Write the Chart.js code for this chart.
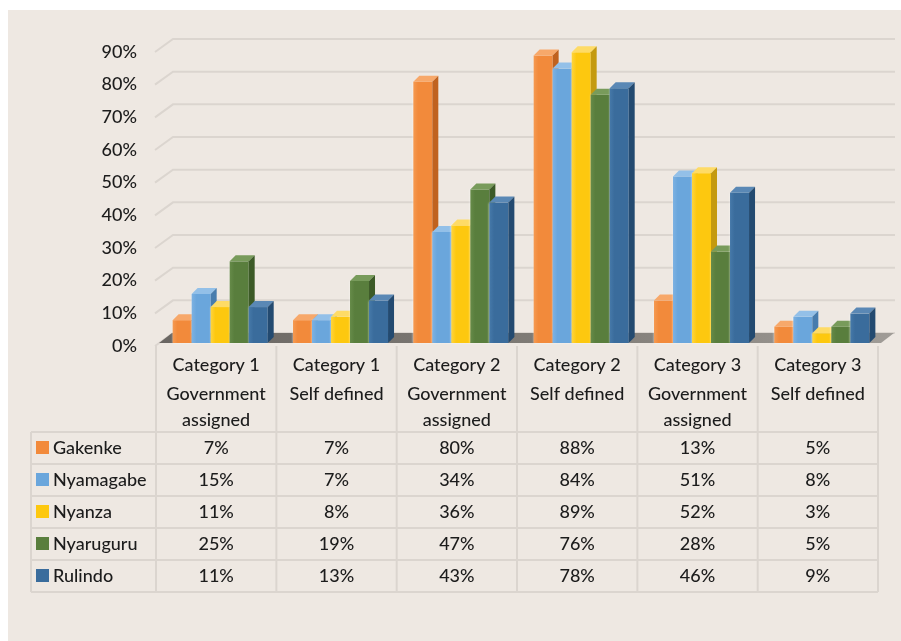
<!DOCTYPE html>
<html>
<head>
<meta charset="utf-8">
<script src="https://cdn.jsdelivr.net/npm/chart.js@4/dist/chart.umd.min.js"></script>
<style>
  html, body { margin: 0; padding: 0; background: #fff; }
  .chart-wrap { position: absolute; left: 8px; top: 10px; width: 893px; height: 631px; background: #eee8e2; }
  canvas { display: block; }
</style>
</head>
<body>
<div class="chart-wrap"><canvas id="chart" width="893" height="631"></canvas></div>
<script>
const CATEGORIES = [
  ['Category 1', 'Government', 'assigned'],
  ['Category 1', 'Self defined'],
  ['Category 2', 'Government', 'assigned'],
  ['Category 2', 'Self defined'],
  ['Category 3', 'Government', 'assigned'],
  ['Category 3', 'Self defined'],
];
const DISTRICTS = ['Gakenke', 'Nyamagabe', 'Nyanza', 'Nyaruguru', 'Rulindo'];
const GAKENKE = [7, 7, 80, 88, 13, 5];
const NYAMAGABE = [15, 7, 34, 84, 51, 8];
const NYANZA = [11, 8, 36, 89, 52, 3];
const NYARUGURU = [25, 19, 47, 76, 28, 5];
const RULINDO = [11, 13, 43, 78, 46, 9];
const Y_MAX = 90;
const Y_STEP = 10;

const SERIES = [GAKENKE, NYAMAGABE, NYANZA, NYARUGURU, RULINDO];

// front / top / side shades for each district
const FACES = [
  { front: '#f28a3b', light: '#f59a52', top: '#f7a86a', side: '#c0621f' },
  { front: '#6aa6dc', light: '#7db2e2', top: '#93c0e8', side: '#477cad' },
  { front: '#fdc80f', light: '#fed43f', top: '#fedb66', side: '#c49a10' },
  { front: '#597e3d', light: '#668b49', top: '#789b5b', side: '#3c5a27' },
  { front: '#3a6c9c', light: '#4679a9', top: '#5a88b5', side: '#234a70' },
];

const TEXT_COLOR = '#1c1c1c';
const GRID_COLOR = '#dbd5cf';
const FONT_FAMILY = 'Lato, "Open Sans", sans-serif';
const FONT = '500 18px ' + FONT_FAMILY;

const DEPTH = 6;              // bar depth in px
const WALL_DX = 17;           // back wall offset
const WALL_DY = 13;
const BAR_DX = 4;             // bars sit slightly in front of the axis plane
const BAR_DY = -3;

const HEADER_LINES = [19, 48, 74];  // text rows under the floor
const TABLE_TOP = 422;
const ROW_H = 32;
const TABLE_LEFT = 23;

function drawBar(ctx, bar, face) {
  const { x, y, base, width } = bar.getProps(['x', 'y', 'base', 'width'], true);
  const x0 = x - width / 2 + BAR_DX;
  const x1 = x0 + width;
  const top = y + BAR_DY;
  const bottom = base + BAR_DY;

  ctx.save();
  ctx.shadowColor = 'rgba(255,255,255,0.7)';
  ctx.shadowBlur = 2;

  const g = ctx.createLinearGradient(x0, 0, x1, 0);
  g.addColorStop(0, face.light);
  g.addColorStop(0.25, face.front);
  g.addColorStop(1, face.front);
  ctx.fillStyle = g;
  ctx.fillRect(x0, top, width, bottom - top);
  ctx.shadowColor = 'transparent';

  ctx.fillStyle = face.top;
  ctx.beginPath();
  ctx.moveTo(x0, top);
  ctx.lineTo(x0 + DEPTH, top - DEPTH);
  ctx.lineTo(x1 + DEPTH, top - DEPTH);
  ctx.lineTo(x1, top);
  ctx.closePath();
  ctx.fill();

  ctx.fillStyle = face.side;
  ctx.beginPath();
  ctx.moveTo(x1, top);
  ctx.lineTo(x1 + DEPTH, top - DEPTH);
  ctx.lineTo(x1 + DEPTH, bottom - DEPTH);
  ctx.lineTo(x1, bottom);
  ctx.closePath();
  ctx.fill();
  ctx.restore();
}

const scene3d = {
  id: 'scene3d',
  beforeDatasetsDraw(chart) {
    const { ctx, chartArea: area, scales: { y } } = chart;
    const y0 = y.getPixelForValue(0);
    ctx.save();

    // back wall gridlines
    ctx.strokeStyle = GRID_COLOR;
    ctx.lineWidth = 2;
    y.ticks.forEach((t) => {
      const py = y.getPixelForValue(t.value);
      ctx.beginPath();
      ctx.moveTo(area.left - 1, py);
      ctx.lineTo(area.left + WALL_DX, py - WALL_DY);
      ctx.lineTo(area.right + WALL_DX, py - WALL_DY);
      ctx.stroke();
    });

    // floor
    const fg = ctx.createLinearGradient(area.left, 0, area.right + 16, 0);
    fg.addColorStop(0, '#6a6662');
    fg.addColorStop(0.6, '#827e79');
    fg.addColorStop(1, '#a09c97');
    ctx.fillStyle = fg;
    ctx.beginPath();
    ctx.moveTo(area.left + 3, y0 - 3);
    ctx.lineTo(area.right + 3, y0 - 3);
    ctx.lineTo(area.right + 16, y0 - 13);
    ctx.lineTo(area.left + 16, y0 - 13);
    ctx.closePath();
    ctx.fill();

    // bars, left to right so each front hides its neighbour's side
    const metas = chart.getSortedVisibleDatasetMetas();
    CATEGORIES.forEach((_, c) => {
      metas.forEach((meta) => drawBar(ctx, meta.data[c], FACES[meta.index]));
    });

    ctx.restore();
    return false;
  },
  afterDraw(chart) {
    const { ctx, scales: { x, y } } = chart;
    const y0 = y.getPixelForValue(0);
    const colW = x.getPixelForValue(1) - x.getPixelForValue(0);
    const edges = CATEGORIES.map((_, i) => x.getPixelForValue(i) - colW / 2);
    edges.push(x.right);
    const tableBottom = TABLE_TOP + ROW_H * DISTRICTS.length;

    ctx.save();
    ctx.strokeStyle = GRID_COLOR;
    ctx.lineWidth = 2;
    ctx.beginPath();
    edges.forEach((ex) => {
      ctx.moveTo(ex, y0);
      ctx.lineTo(ex, tableBottom);
    });
    ctx.moveTo(TABLE_LEFT, TABLE_TOP);
    ctx.lineTo(TABLE_LEFT, tableBottom);
    for (let r = 0; r <= DISTRICTS.length; r += 1) {
      ctx.moveTo(TABLE_LEFT, TABLE_TOP + r * ROW_H);
      ctx.lineTo(x.right, TABLE_TOP + r * ROW_H);
    }
    ctx.stroke();

    ctx.fillStyle = TEXT_COLOR;
    ctx.font = FONT;
    ctx.textBaseline = 'middle';
    ctx.textAlign = 'center';
    CATEGORIES.forEach((lines, i) => {
      const cx = x.getPixelForValue(i);
      lines.forEach((line, k) => ctx.fillText(line, cx, y0 + HEADER_LINES[k]));
    });

    DISTRICTS.forEach((name, r) => {
      const cy = TABLE_TOP + r * ROW_H + ROW_H / 2;
      ctx.fillStyle = FACES[r].front;
      ctx.fillRect(TABLE_LEFT + 5, cy - 7, 13, 13);
      ctx.fillStyle = TEXT_COLOR;
      ctx.textAlign = 'left';
      ctx.fillText(name, TABLE_LEFT + 22, cy);
      ctx.textAlign = 'center';
      SERIES[r].forEach((v, i) => ctx.fillText(v + '%', x.getPixelForValue(i), cy));
    });
    ctx.restore();
  },
};

new Chart(document.getElementById('chart'), {
  type: 'bar',
  data: {
    labels: CATEGORIES,
    datasets: DISTRICTS.map((name, i) => ({
      label: name,
      data: SERIES[i],
      backgroundColor: FACES[i].front,
    })),
  },
  options: {
    responsive: false,
    animation: false,
    layout: { padding: { left: 0, right: 23, top: 42, bottom: 295 } },
    datasets: { bar: { categoryPercentage: 0.79, barPercentage: 1 } },
    plugins: { legend: { display: false }, tooltip: { enabled: false } },
    scales: {
      x: { display: false },
      y: {
        min: 0,
        max: Y_MAX,
        afterFit(scale) { scale.width = 148; },
        grid: { display: false, drawTicks: false },
        border: { display: false },
        ticks: {
          stepSize: Y_STEP,
          padding: 19,
          color: TEXT_COLOR,
          font: { family: FONT_FAMILY, size: 18, weight: '500' },
          callback: (v) => v + '%',
        },
      },
    },
  },
  plugins: [scene3d],
});
</script>
</body>
</html>
